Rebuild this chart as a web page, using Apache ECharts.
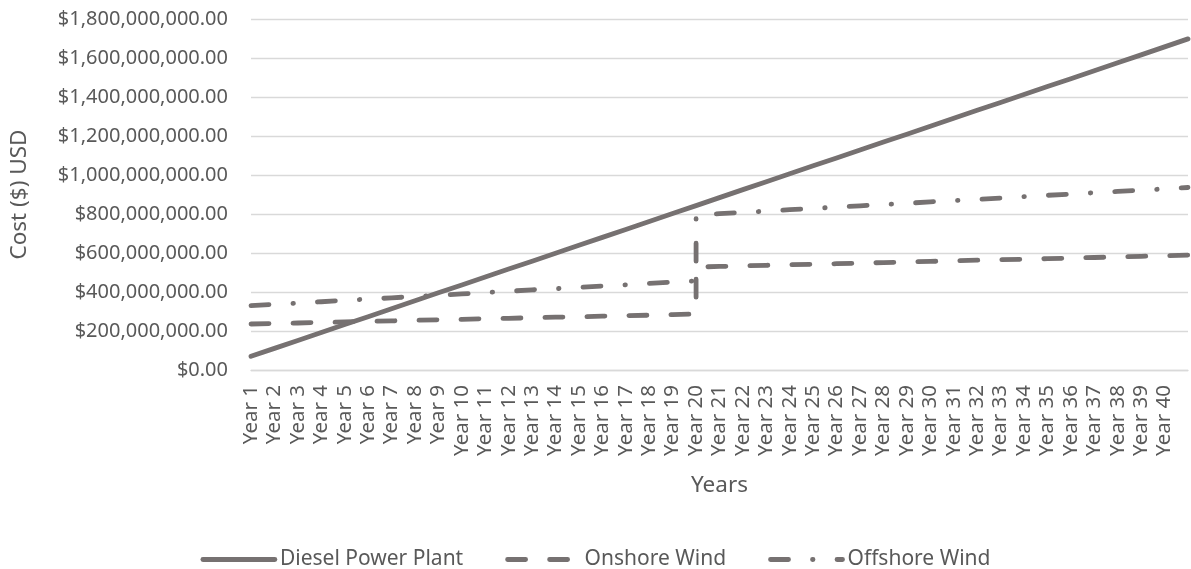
<!DOCTYPE html>
<html>
<head>
<meta charset="utf-8">
<title>Cost comparison over 40 years</title>
<script src="https://cdn.jsdelivr.net/npm/echarts@6/dist/echarts.min.js"></script>
<style>
  html, body { margin: 0; padding: 0; background: #ffffff; }
  #chart { width: 1191px; height: 569px; }
</style>
</head>
<body>
<div id="chart"></div>
<script>
// Year tick labels (the 41st position is the closing point of the period, unlabeled)
const yearLabels = [
  'Year 1','Year 2','Year 3','Year 4','Year 5','Year 6','Year 7','Year 8','Year 9','Year 10',
  'Year 11','Year 12','Year 13','Year 14','Year 15','Year 16','Year 17','Year 18','Year 19','Year 20',
  'Year 21','Year 22','Year 23','Year 24','Year 25','Year 26','Year 27','Year 28','Year 29','Year 30',
  'Year 31','Year 32','Year 33','Year 34','Year 35','Year 36','Year 37','Year 38','Year 39','Year 40'
];

// Positions along the year axis for the diesel series
const dieselYears = [
  1,2,3,4,5,6,7,8,9,10,11,12,13,14,15,16,17,18,19,20,
  21,22,23,24,25,26,27,28,29,30,31,32,33,34,35,36,37,38,39,40,41
];

// Cumulative diesel plant cost, USD
const dieselCost = [
  70e6, 111e6, 151e6, 192e6, 233e6, 273e6, 314e6, 355e6, 396e6, 436e6,
  477e6, 518e6, 558e6, 599e6, 640e6, 680e6, 721e6, 762e6, 803e6, 843e6,
  884e6, 925e6, 965e6, 1006e6, 1047e6, 1087e6, 1128e6, 1169e6, 1209e6, 1250e6,
  1291e6, 1332e6, 1372e6, 1413e6, 1454e6, 1494e6, 1535e6, 1576e6, 1616e6, 1657e6,
  1698e6
];

// Wind positions: year 20 appears twice (before and after turbine replacement)
const windYears = [
  1,2,3,4,5,6,7,8,9,10,11,12,13,14,15,16,17,18,19,20,
  20,
  21,22,23,24,25,26,27,28,29,30,31,32,33,34,35,36,37,38,39,40,41
];

// Cumulative onshore wind cost, USD
const onshoreCost = [
  236e6, 239e6, 241e6, 244e6, 247e6, 249e6, 252e6, 255e6, 257e6, 260e6,
  263e6, 265e6, 268e6, 271e6, 273e6, 276e6, 279e6, 281e6, 284e6, 287e6,
  528e6,
  531e6, 534e6, 537e6, 540e6, 542e6, 545e6, 548e6, 551e6, 554e6, 557e6,
  560e6, 563e6, 566e6, 568e6, 571e6, 574e6, 577e6, 580e6, 583e6, 586e6,
  589e6
];

// Cumulative offshore wind cost, USD
const offshoreCost = [
  330e6, 337e6, 343e6, 350e6, 357e6, 364e6, 370e6, 377e6, 384e6, 390e6,
  397e6, 404e6, 411e6, 417e6, 424e6, 431e6, 437e6, 444e6, 451e6, 457e6,
  795e6,
  802e6, 808e6, 815e6, 822e6, 829e6, 835e6, 842e6, 849e6, 855e6, 862e6,
  869e6, 875e6, 882e6, 889e6, 896e6, 902e6, 909e6, 916e6, 922e6, 929e6,
  936e6
];

const seriesNames = ['Diesel Power Plant', 'Onshore Wind', 'Offshore Wind'];

const FONT = '"Noto Sans", sans-serif';
const TEXT = '#595959';
const LINE = '#767171';
const GRID = '#d9d9d9';
const LINE_WIDTH = 4.8;

function pairs(xs, ys) {
  return xs.map((x, i) => [x, ys[i]]);
}

function usd(v) {
  const parts = Math.round(v).toString().replace(/\B(?=(\d{3})+(?!\d))/g, ',');
  return '$' + parts + '.00';
}

function lineSeries(name, data, dash) {
  return {
    name: name,
    type: 'line',
    data: data,
    symbol: 'none',
    showSymbol: false,
    smooth: false,
    animation: false,
    lineStyle: {
      color: LINE,
      width: LINE_WIDTH,
      type: dash,
      cap: 'round',
      join: 'round'
    },
    itemStyle: { color: LINE }
  };
}

const chart = echarts.init(document.getElementById('chart'), null, { renderer: 'canvas' });

chart.setOption({
  animation: false,
  backgroundColor: '#ffffff',
  textStyle: { fontFamily: FONT, color: TEXT },
  grid: { left: 248, right: 3, top: 19, bottom: 199 },
  legend: {
    data: seriesNames,
    left: 'center',
    top: 544,
    itemWidth: 72,
    itemHeight: 24,
    itemGap: 42,
    // line-only keys: hide the marker dot, keep the series stroke
    itemStyle: { opacity: 0 },
    lineStyle: { width: LINE_WIDTH, cap: 'round' },
    textStyle: { fontFamily: FONT, fontSize: 21, color: TEXT }
  },
  xAxis: {
    type: 'value',
    min: 1,
    max: 41,
    interval: 1,
    name: 'Years',
    nameLocation: 'middle',
    nameGap: 104,
    nameTextStyle: { fontFamily: FONT, fontSize: 22.5, color: TEXT },
    axisLine: { show: true, lineStyle: { color: GRID, width: 1.3 } },
    axisTick: { show: false },
    splitLine: { show: false },
    axisLabel: {
      rotate: 90,
      margin: 15,
      fontFamily: FONT,
      fontSize: 20.5,
      color: TEXT,
      showMinLabel: true,
      showMaxLabel: true,
      formatter: v => yearLabels[v - 1] || ''
    }
  },
  yAxis: {
    type: 'value',
    min: 0,
    max: 1800000000,
    interval: 200000000,
    name: 'Cost ($) USD',
    nameLocation: 'middle',
    nameGap: 220,
    nameTextStyle: { fontFamily: FONT, fontSize: 22.5, color: TEXT },
    axisLine: { show: false },
    axisTick: { show: false },
    splitLine: { show: true, lineStyle: { color: GRID, width: 1.3 } },
    axisLabel: {
      margin: 23,
      fontFamily: FONT,
      fontSize: 20,
      color: TEXT,
      formatter: usd
    }
  },
  series: [
    lineSeries(seriesNames[0], pairs(dieselYears, dieselCost), 'solid'),
    lineSeries(seriesNames[1], pairs(windYears, onshoreCost), [18, 24]),
    lineSeries(seriesNames[2], pairs(windYears, offshoreCost), [18, 24, 0.5, 24])
  ]
});
</script>
</body>
</html>
